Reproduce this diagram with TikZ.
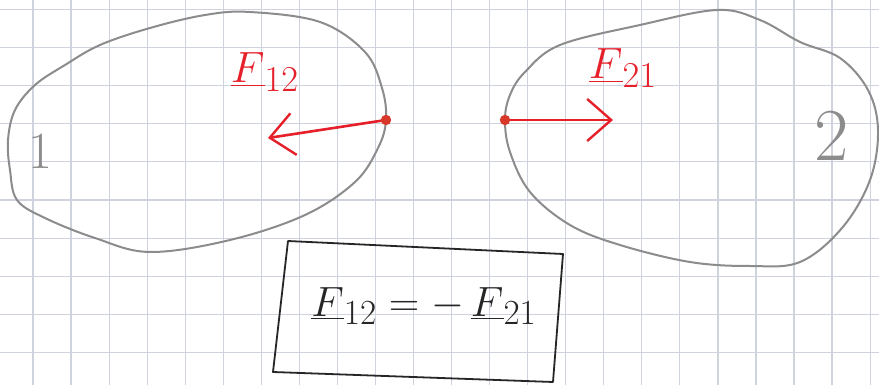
\documentclass[tikz,border=0pt]{standalone}
\usetikzlibrary{arrows.meta}
\definecolor{rotstift}{HTML}{E5202B}
\definecolor{punktrot}{HTML}{D8382A}
\definecolor{bleistift}{HTML}{8C8C8C}
\definecolor{karo}{HTML}{CFD3DE}

\begin{document}
\begin{tikzpicture}[x=0.5pt, y=-0.5pt,
      gitter/.style={karo, line width=0.6pt},
      koerper/.style={bleistift, line width=1pt, line join=round},
      rahmen/.style={black!85, line width=0.9pt, line join=round},
      kraft/.style={-{Straight Barb[length=12pt, width=21pt, line width=1.2pt]},
        rotstift, line width=1.3pt},
      punkt/.style={punktrot},
      bezeichnung/.style={text=rotstift, inner sep=0pt, font=\Huge, scale=0.88},
      ziffer/.style={text=bleistift, inner sep=0pt, font=\Huge},
      gleichung/.style={text=black!85, inner sep=0pt, font=\Huge, scale=0.85}]
    \useasboundingbox (0,0) rectangle (879,385);
    \fill[white] (0,0) rectangle (879,385);
    % Karopapier
    \foreach \i in {0,...,22}
      \draw[gitter] ({33+38.05*\i},0) -- ({33+38.05*\i},385);
    \foreach \j in {0,...,9}
      \draw[gitter] (0,{9.5+38.1*\j}) -- (879,{9.5+38.1*\j});
    % Koerper 1 und 2
    \draw[koerper] plot[smooth cycle, tension=0.6] coordinates {
      (250,12) (320,22) (365,52) (382,88) (386,120) (378,148) (355,182)
      (305,215) (230,240) (150,252) (95,238) (45,218) (17,200) (10,170)
      (8,140) (15,110) (35,85) (65,65) (100,45) (150,28) (205,15)};
    \draw[koerper] plot[smooth cycle, tension=0.6] coordinates {
      (717,10) (760,20) (800,42) (840,58) (868,90) (878,130) (870,180)
      (842,228) (800,262) (750,266) (690,262) (620,245) (570,225)
      (530,192) (510,152) (505,120) (510,95) (525,72) (560,45) (640,25)};
    \node[ziffer, scale=1.05] (eins) at (40,151) {1};
    \node[ziffer, scale=1.5] (zwei) at (832,136) {2};
    % Kraefte
    \coordinate (p1) at (386,120);
    \coordinate (k1) at (268,138);
    \coordinate (p2) at (505,120);
    \coordinate (k2) at (613,120);
    \draw[kraft] (p1) -- (k1);
    \draw[kraft] (p2) -- (k2);
    \fill[punkt] (p1) circle (2.6pt);
    \fill[punkt] (p2) circle (2.6pt);
    \node[bezeichnung] (f12) at (265,72) {$\underline{F}_{12}$};
    \node[bezeichnung] (f21) at (623,68) {$\underline{F}_{21}$};
    % Gleichung im Kasten
    \draw[rahmen] (288,241) -- (563,254) -- (553,382) -- (273,372) -- cycle;
    \node[gleichung] (gl) at (424,306) {$\underline{F}_{12} = -\,\underline{F}_{21}$};
  \end{tikzpicture}
\end{document}
